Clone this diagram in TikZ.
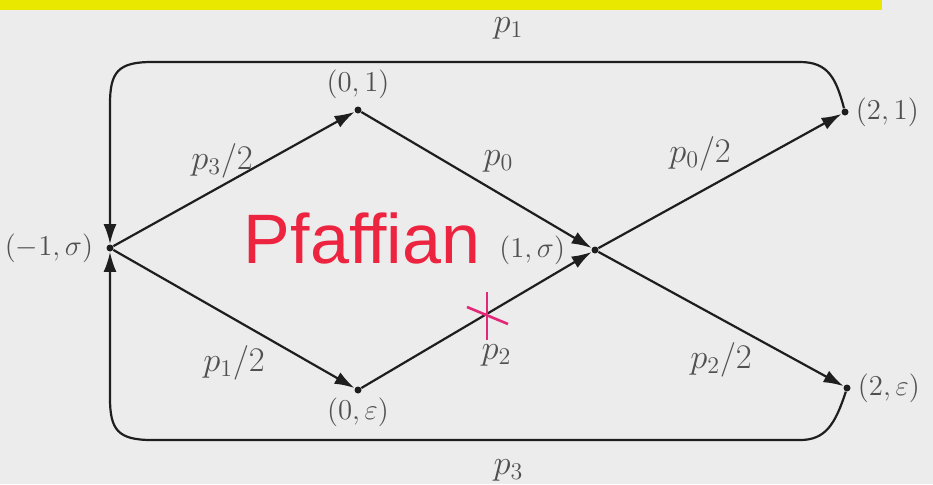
\documentclass[tikz,border=0pt]{standalone}
\usepackage{amsmath}
\usepackage{fontspec}
\newfontfamily\pfsans{Liberation Sans}
\usetikzlibrary{arrows.meta,positioning,calc}
\definecolor{scanbg}{RGB}{236,236,236}
\definecolor{inkline}{RGB}{30,30,30}
\definecolor{inktext}{RGB}{80,80,80}
\definecolor{pfred}{RGB}{236,36,64}
\definecolor{pfpink}{RGB}{228,40,120}
\definecolor{bandyellow}{RGB}{232,232,0}

\begin{document}
\begin{tikzpicture}[x=0.5pt, y=-0.5pt, >={Latex[length=10pt,width=6.5pt]},
  vtx/.style={circle, fill=inkline, inner sep=0pt, minimum size=3.5pt},
  vlab/.style={font=\fontsize{14}{16}\selectfont, text=inktext},
  elab/.style={font=\fontsize{17}{19}\selectfont, text=inktext},
  edge/.style={->, line width=1.1pt, draw=inkline}]
  \useasboundingbox (0,0) rectangle (933,484);
  \fill[scanbg] (0,0) rectangle (933,484);
  \fill[bandyellow] (0,0) rectangle (882,10);
  % vertices
  \node[vtx, label={[vlab, font=\fontsize{13.5}{15}\selectfont, label distance=3pt]left:$(-1,\sigma)$}] (m1s) at (110,248) {};
  \node[vtx, label={[vlab, label distance=0pt]above:$(0,1)$}] (z1) at (358,110) {};
  \node[vtx, label={[vlab, label distance=-1.5pt]below:$(0,\varepsilon)$}] (ze) at (358,390) {};
  \node[vtx, label={[vlab, font=\fontsize{13.5}{15}\selectfont, label distance=9.5pt]left:$(1,\sigma)$}] (o1s) at (595,250) {};
  \node[vtx, label={[vlab, label distance=0pt]right:$(2,1)$}] (t21) at (845,112) {};
  \node[vtx, label={[vlab, label distance=0pt]right:$(2,\varepsilon)$}] (t2e) at (847,388) {};
  \node[font=\pfsans\fontsize{35}{40}\selectfont, text=pfred, anchor=base] (pf) at (362,263) {Pfaffian};
  % edges
  \draw[edge] (m1s) -- node[elab, xshift=-6pt, yshift=9pt] {$p_3/2$} (z1);
  \draw[edge] (m1s) -- node[elab, yshift=-22pt] {$p_1/2$} (ze);
  \draw[edge] (z1) -- node[elab, xshift=11pt, yshift=9.5pt] {$p_0$} (o1s);
  \draw[edge] (ze) -- node[elab, xshift=10pt, yshift=-17.5pt] {$p_2$} (o1s);
  \draw[edge] (o1s) -- node[elab, xshift=-10pt, yshift=13.5pt] {$p_0/2$} (t21);
  \draw[edge] (o1s) -- node[elab, yshift=-20.5pt] {$p_2/2$} (t2e);
  \draw[edge] (t21) .. controls (836,78) and (828,62) .. (800,62)
    -- node[elab, pos=0.45, yshift=17pt] {$p_1$} (152,62)
    .. controls (118,62) and (110,72) .. (110,104) -- (m1s);
  \draw[edge] (t2e) .. controls (835,425) and (825,440) .. (800,440)
    -- node[elab, pos=0.45, yshift=-15pt] {$p_3$} (152,440)
    .. controls (118,440) and (110,430) .. (110,398) -- (m1s);
  % hand-drawn mark
  \draw[pfpink, line width=1.3pt] (487,292) -- (487,340);
  \draw[pfpink, line width=1.3pt] (467,307) -- (508,324);
\end{tikzpicture}
\end{document}
